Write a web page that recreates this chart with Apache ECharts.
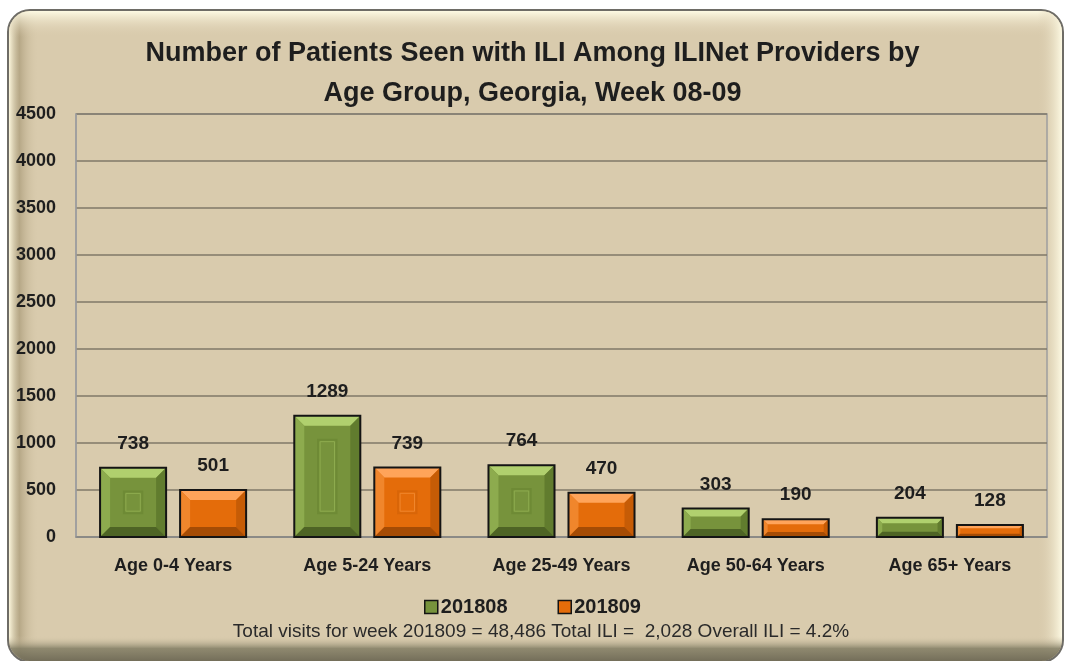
<!DOCTYPE html>
<html>
<head>
<meta charset="utf-8">
<script src="https://cdn.jsdelivr.net/npm/echarts@6/dist/echarts.min.js"></script>
<style>html,body{margin:0;padding:0;background:#fff;}#c{width:1065px;height:661px;}</style>
</head>
<body>
<div id="c"></div>
<script>
const categories = ['Age 0-4 Years', 'Age 5-24 Years', 'Age 25-49 Years', 'Age 50-64 Years', 'Age 65+ Years'];
const seriesNames = ['201808', '201809'];
const values201808 = [738, 1289, 764, 303, 204];
const values201809 = [501, 739, 470, 190, 128];
const yTicks = [0, 500, 1000, 1500, 2000, 2500, 3000, 3500, 4000, 4500];
const titleText = 'Number of Patients Seen with ILI Among ILINet Providers by\nAge Group, Georgia, Week 08-09';
const footerText = 'Total visits for week 201809 = 48,486 Total ILI =  2,028 Overall ILI = 4.2%';

const FONT = 'Liberation Sans';
const chart = echarts.init(document.getElementById('c'));

const palettes = [
  {mid: '#77933C', top: '#B0D06E', left: '#8DAB4E', right: '#617C2E', bottom: '#4E6425', inner: '#6E8A35'},
  {mid: '#E46C0A', top: '#FFA45A', left: '#F0862C', right: '#C65C06', bottom: '#A54C05', inner: '#D86508'}
];

function makeRender(sIdx) {
  const pal = palettes[sIdx];
  return function (params, api) {
    const cat = api.value(0);
    const val = api.value(1);
    const base = api.coord([cat, 0]);
    const topPt = api.coord([cat, val]);
    const bandW = api.size([1, 0])[0];
    const barW = bandW * 0.34;
    const gap = bandW * 0.072;
    const cx = base[0] + (sIdx === 0 ? -1 : 1) * (barW + gap) / 2;
    const x0 = cx - barW / 2, x1 = cx + barW / 2;
    const y0 = topPt[1], y1 = base[1];
    const h = y1 - y0;
    const b = Math.min(10, h * 0.28);
    const ix0 = x0 + b, ix1 = x1 - b, iy0 = y0 + b, iy1 = y1 - b;
    const children = [
      {type: 'rect', shape: {x: x0, y: y0, width: barW, height: h}, style: {fill: pal.mid}},
      {type: 'polygon', shape: {points: [[x0, y0], [x1, y0], [ix1, iy0], [ix0, iy0]]}, style: {fill: pal.top}},
      {type: 'polygon', shape: {points: [[x0, y0], [ix0, iy0], [ix0, iy1], [x0, y1]]}, style: {fill: pal.left}},
      {type: 'polygon', shape: {points: [[x1, y0], [x1, y1], [ix1, iy1], [ix1, iy0]]}, style: {fill: pal.right}},
      {type: 'polygon', shape: {points: [[x0, y1], [ix0, iy1], [ix1, iy1], [x1, y1]]}, style: {fill: pal.bottom}}
    ];
    const ih = iy1 - iy0, iw = ix1 - ix0;
    if (ih > 30) {
      const m = Math.min(iw * 0.3, ih * 0.3);
      children.push({type: 'rect', shape: {x: ix0 + m, y: iy0 + m, width: iw - 2 * m, height: ih - 2 * m},
        style: {fill: 'none', stroke: pal.inner, lineWidth: 2}});
      children.push({type: 'rect', shape: {x: ix0 + m + 2, y: iy0 + m + 2, width: iw - 2 * m - 4, height: ih - 2 * m - 4},
        style: {fill: 'none', stroke: pal.left, lineWidth: 1}});
    }
    children.push({type: 'rect', shape: {x: x0, y: y0, width: barW, height: h}, style: {fill: 'none', stroke: '#141414', lineWidth: 2}});
    children.push({type: 'text', style: {text: String(val), x: cx, y: y0 - 24, textAlign: 'center', textVerticalAlign: 'middle',
      font: 'bold 19px "' + FONT + '"', fill: '#1e1e1e'}});
    return {type: 'group', children: children};
  };
}

chart.setOption({
  backgroundColor: '#ffffff',
  animation: false,
  graphic: [
    {type: 'rect', z: -10, shape: {x: 8, y: 10, width: 1055, height: 652, r: 22},
      style: {fill: '#D9CBAD', stroke: '#6E6C66', lineWidth: 2}},
    {type: 'rect', z: -9, shape: {x: 9, y: 11, width: 30, height: 648, r: [21, 0, 0, 21]},
      style: {fill: new echarts.graphic.LinearGradient(0, 0, 1, 0, [
        {offset: 0, color: 'rgba(255,250,225,0.9)'},
        {offset: 0.35, color: 'rgba(160,145,110,0.6)'},
        {offset: 1, color: 'rgba(217,203,173,0)'}])}},
    {type: 'rect', z: -9, shape: {x: 9, y: 11, width: 1053, height: 26, r: [21, 21, 0, 0]},
      style: {fill: new echarts.graphic.LinearGradient(0, 0, 0, 1, [
        {offset: 0, color: 'rgba(255,252,230,0.95)'},
        {offset: 1, color: 'rgba(217,203,173,0)'}])}},
    {type: 'rect', z: -9, shape: {x: 1038, y: 11, width: 24, height: 648, r: [0, 21, 21, 0]},
      style: {fill: new echarts.graphic.LinearGradient(0, 0, 1, 0, [
        {offset: 0, color: 'rgba(217,203,173,0)'},
        {offset: 1, color: 'rgba(255,252,230,0.95)'}])}},
    {type: 'rect', z: -9, shape: {x: 9, y: 636, width: 1053, height: 25, r: [0, 0, 21, 21]},
      style: {fill: new echarts.graphic.LinearGradient(0, 0, 0, 1, [
        {offset: 0, color: 'rgba(217,203,173,0)'},
        {offset: 0.5, color: 'rgba(130,125,100,0.85)'},
        {offset: 1, color: 'rgba(110,105,85,0.95)'}])}},
    {type: 'text', x: 541, y: 632,
      style: {text: footerText, font: '19px "' + FONT + '"', fill: '#2a2a2a', textAlign: 'center', textVerticalAlign: 'middle'}}
  ],
  title: {
    text: titleText,
    left: 'center',
    top: 29,
    textStyle: {fontFamily: FONT, fontWeight: 'bold', fontSize: 27, color: '#1e1e1e', lineHeight: 40}
  },
  legend: {
    data: seriesNames,
    top: 592,
    left: 'center',
    itemWidth: 13,
    itemHeight: 13,
    itemGap: 50,
    icon: 'rect',
    itemStyle: {borderColor: '#141414', borderWidth: 1.5},
    textStyle: {fontFamily: FONT, fontWeight: 'bold', fontSize: 20, color: '#1e1e1e', padding: [0, 0, 0, -2]}
  },
  grid: {left: 76, right: 18, top: 114, bottom: 124, show: true, backgroundColor: '#D9CBAD', borderColor: '#9E9E9E', borderWidth: 1.5},
  xAxis: {
    type: 'category',
    data: categories,
    axisTick: {show: false},
    axisLine: {lineStyle: {color: '#8C8C8C', width: 1.5}},
    axisLabel: {fontFamily: FONT, fontWeight: 'bold', fontSize: 18, color: '#1e1e1e', margin: 20}
  },
  yAxis: {
    type: 'value',
    min: yTicks[0],
    max: yTicks[yTicks.length - 1],
    interval: 500,
    axisLine: {show: true, lineStyle: {color: '#9E9E9E', width: 1.5}},
    axisTick: {show: false},
    splitLine: {lineStyle: {color: '#7F7868', width: 1.5}},
    axisLabel: {fontFamily: FONT, fontWeight: 'bold', fontSize: 18, color: '#1e1e1e', margin: 20, formatter: v => String(v)}
  },
  series: [
    {name: seriesNames[0], type: 'custom', renderItem: makeRender(0), itemStyle: {color: palettes[0].mid},
      encode: {x: 0, y: 1}, data: values201808.map((v, i) => [i, v])},
    {name: seriesNames[1], type: 'custom', renderItem: makeRender(1), itemStyle: {color: palettes[1].mid},
      encode: {x: 0, y: 1}, data: values201809.map((v, i) => [i, v])}
  ]
});
</script>
</body>
</html>
